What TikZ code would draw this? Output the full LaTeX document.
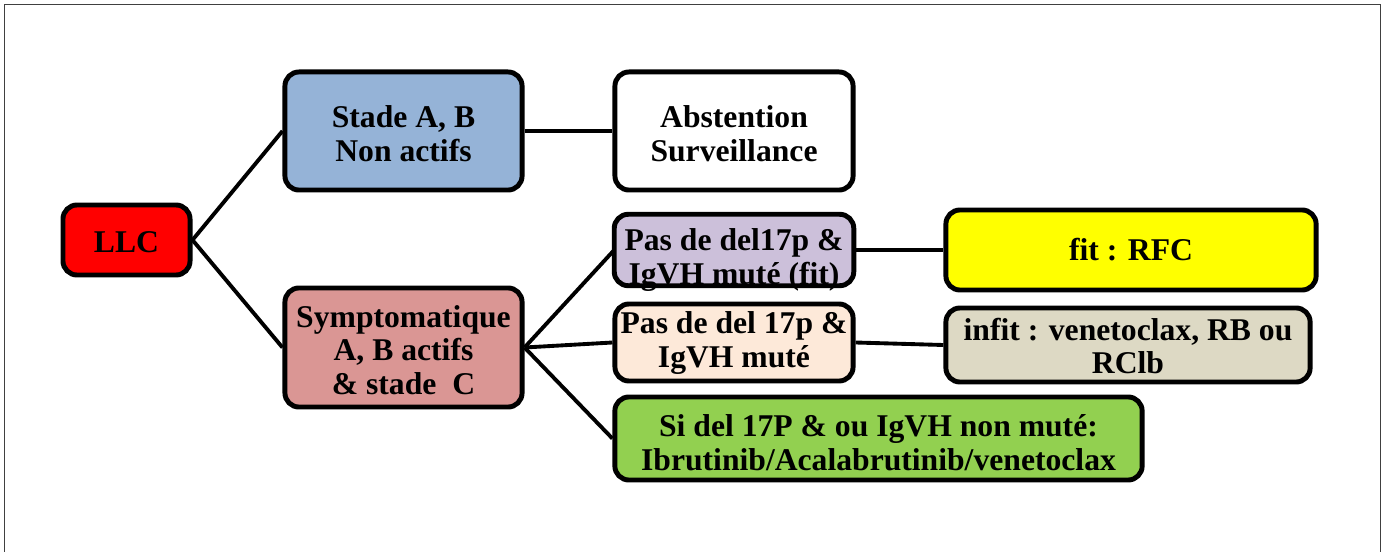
\documentclass[tikz,border=0pt]{standalone}
\usepackage{fontspec}
\setmainfont{Liberation Serif}
\definecolor{frameg}{HTML}{404040}
\definecolor{cred}{HTML}{FF0000}
\definecolor{cblue}{HTML}{95B3D7}
\definecolor{cpink}{HTML}{DA9694}
\definecolor{clav}{HTML}{CCC0DA}
\definecolor{cpeach}{HTML}{FDE9D9}
\definecolor{ctan}{HTML}{DDD9C4}
\definecolor{cyel}{HTML}{FFFF00}
\definecolor{cgreen}{HTML}{92D050}
\tikzset{
  boxfill/.style={rectangle, rounded corners=4pt, inner sep=0pt},
  box/.style={boxfill, draw=black, line width=1.4pt},
  txt/.style={align=center, inner sep=0pt, font=\fontsize{9}{9.6}\selectfont\bfseries},
  link/.style={line width=1.1pt, black},
  border/.style={draw=black, line width=1.4pt, rounded corners=4pt}
}
\begin{document}
\begin{tikzpicture}[x=0.01cm,y=-0.01cm]
\useasboundingbox (0,0) rectangle (1386,552);
\draw[frameg, line width=0.5pt] (4.5,560) -- (4.5,4.5) -- (1380.5,4.5) -- (1380.5,560);

\node[box, fill=cred, minimum width=1.27cm, minimum height=0.70cm] (llc) at (126.5,240) {};
\node[txt] (llctext) at (126.5,242) {LLC};
\node[box, fill=cblue, minimum width=2.37cm, minimum height=1.18cm] (stade) at (403.5,131) {};
\node[txt] (stadetext) at (403.5,134) {Stade A, B\\Non actifs};
\node[box, fill=white, minimum width=2.38cm, minimum height=1.18cm] (abst) at (734,131) {};
\node[txt] (absttext) at (734,134) {Abstention\\Surveillance};
\node[box, fill=cpink, minimum width=2.37cm, minimum height=1.19cm] (sympt) at (403.5,347.5) {};
\node[txt] (sympttext) at (403.5,350) {Symptomatique\\A, B actifs\\\& stade\ \ C};

\node[boxfill, fill=clav, minimum width=2.38cm, minimum height=0.70cm] (fit) at (734,250) {};
\node[txt] (fittext) at (734,260) {Pas de del17p \&\\IgVH mut\'e (fit)};
\draw[border] (fit.south west) rectangle (fit.north east);

\node[box, fill=cyel, minimum width=3.70cm, minimum height=0.80cm] (rfc) at (1131,250) {};
\node[txt] (rfctext) at (1131,250) {fit : RFC};
\node[box, fill=cpeach, minimum width=2.38cm, minimum height=0.77cm] (pas) at (734,342.5) {};
\node[txt] (pastext) at (734,343) {Pas de del 17p \&\\IgVH mut\'e};
\node[box, fill=ctan, minimum width=3.64cm, minimum height=0.74cm] (infit) at (1128,345) {};
\node[txt] (infittext) at (1128,346) {infit : venetoclax, RB ou\\RClb};
\node[box, fill=cgreen, minimum width=5.27cm, minimum height=0.83cm] (sidel) at (878.5,438.5) {};
\node[txt] (sideltext) at (878.5,443) {Si del 17P \& ou IgVH non mut\'e:\\Ibrutinib/Acalabrutinib/venetoclax};

\draw[link] (llc.east) -- (stade.west);
\draw[link] (llc.east) -- (sympt.west);
\draw[link] (stade.east) -- (abst.west);
\draw[link] (sympt.east) -- (fit.west);
\draw[link] (sympt.east) -- (pas.west);
\draw[link] (sympt.east) -- (sidel.west);
\draw[link] (fit.east) -- (rfc.west);
\draw[link] (pas.east) -- (infit.west);
\end{tikzpicture}
\end{document}
